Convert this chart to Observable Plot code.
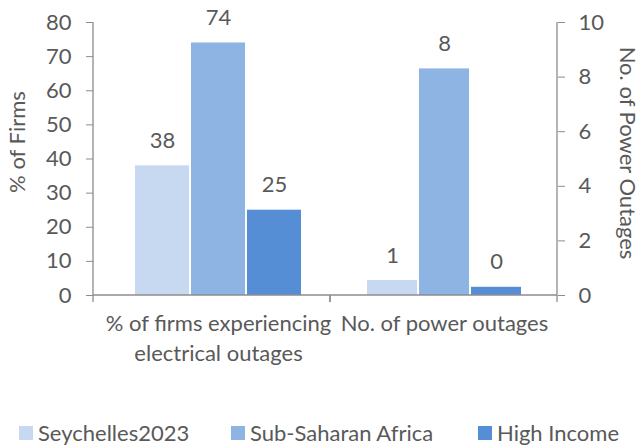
<!DOCTYPE html>
<html>
<head>
<meta charset="utf-8">
<script src="https://cdn.jsdelivr.net/npm/d3@7"></script>
<script src="https://cdn.jsdelivr.net/npm/@observablehq/plot@0.6"></script>
<style>
  html, body { margin: 0; padding: 0; background: #fff; }
  #chart { position: relative; width: 641px; height: 445px; font-family: Lato, sans-serif; color: #595959; }
  #chart svg { position: absolute; top: 0; overflow: visible; }
  .leg { position: absolute; top: 420px; font-size: 22px; line-height: 26px; white-space: nowrap; display: flex; align-items: center; }
  .leg i { display: inline-block; width: 14px; height: 14px; margin-right: 5px; }
</style>
</head>
<body>
<div id="chart"></div>
<script>
// ---- data ----
const series = ["Seychelles2023", "Sub-Saharan Africa", "High Income"];
const colors = ["#C6D9F1", "#8EB4E3", "#558ED5"];
const categories = ["% of firms experiencing\nelectrical outages", "No. of power outages"];
const pctFirmsValues = [38, 74, 25];        // left axis (% of firms)
const outageValues = [0.55, 8.3, 0.3];       // right axis (no. of outages)
const leftTicks = [0, 10, 20, 30, 40, 50, 60, 70, 80];
const rightTicks = [0, 2, 4, 6, 8, 10];
const leftAxisLabel = "% of Firms";
const rightAxisLabel = "No. of Power Outages";

const leftData = series.map((s, i) => ({series: s, value: pctFirmsValues[i]}));
const rightData = series.map((s, i) => ({series: s, value: outageValues[i]}));

const AX = "#8c8c8c", TXT = "#595959", FS = 22;

function frameLines(sides) {
  return (index, scales, values, dims) => {
    const g = d3.create("svg:g").attr("stroke", AX).attr("stroke-width", 1.3);
    const b = dims.height - dims.marginBottom;
    const L = dims.marginLeft, R = dims.width - dims.marginRight;
    g.append("line").attr("x1", L).attr("x2", R).attr("y1", b).attr("y2", b);
    for (const x of [L, R]) g.append("line").attr("x1", x).attr("x2", x).attr("y1", b).attr("y2", b + 7);
    const ax = sides === "left" ? L : R;
    g.append("line").attr("x1", ax).attr("x2", ax).attr("y1", dims.marginTop).attr("y2", b);
    return g.node();
  };
}

const common = {
  height: 410, marginTop: 22, marginBottom: 115,
  style: {fontFamily: "Lato, sans-serif", fontSize: FS + "px", color: TXT, background: "transparent", overflow: "visible"},
  color: {domain: series, range: colors}
};

const left = Plot.plot({
  ...common,
  width: 330, marginLeft: 93, marginRight: 0,
  x: {domain: series, range: [134, 302], paddingInner: 0.04, paddingOuter: 0, axis: null},
  y: {domain: [0, 80], axis: null},
  marks: [
    Plot.axisY({ticks: leftTicks, tickSize: 7, tickPadding: 15, stroke: AX, fill: TXT, label: null, fontSize: FS}),
    Plot.barY(leftData, {x: "series", y: "value", fill: "series"}),
    frameLines("left"),
    Plot.text(leftData, {x: "series", y: "value", text: d => String(Math.round(d.value)), dy: -25, fill: TXT, fontSize: FS}),
    Plot.text([{series: series[1], label: categories[0]}], {x: "series", text: "label", frameAnchor: "bottom", lineAnchor: "top", dy: 14, lineHeight: 1.36, fill: TXT, fontSize: FS}),
    Plot.text([leftAxisLabel], {frameAnchor: "left", textAnchor: "middle", rotate: -90, dx: -76, dy: -17, fill: TXT, fontSize: FS})
  ]
});

const right = Plot.plot({
  ...common,
  width: 311, marginLeft: 0, marginRight: 84,
  x: {domain: series, range: [37, 191], paddingInner: 0.04, paddingOuter: 0, axis: null},
  y: {domain: [0, 10], axis: null},
  marks: [
    Plot.axisY({anchor: "right", ticks: rightTicks, tickSize: 7, tickPadding: 14, stroke: AX, fill: TXT, label: null, fontSize: FS}),
    Plot.barY(rightData, {x: "series", y: "value", fill: "series"}),
    frameLines("right"),
    Plot.text(rightData, {x: "series", y: "value", text: d => String(Math.round(d.value)), dy: -25, fill: TXT, fontSize: FS}),
    Plot.text([{series: series[1], label: categories[1]}], {x: "series", text: "label", frameAnchor: "bottom", lineAnchor: "top", dy: 14, lineHeight: 1.36, fill: TXT, fontSize: FS}),
    Plot.text([rightAxisLabel], {frameAnchor: "right", textAnchor: "middle", rotate: 90, dx: 70, dy: -6, fill: TXT, fontSize: FS})
  ]
});

const chart = document.getElementById("chart");
left.style.left = "0px";
right.style.left = "330px";
chart.appendChild(left);
chart.appendChild(right);

const legX = [19, 231, 478];
series.forEach((s, i) => {
  const d = document.createElement("div");
  d.className = "leg";
  d.style.left = legX[i] + "px";
  d.innerHTML = `<i style="background:${colors[i]}"></i><span>${s}</span>`;
  chart.appendChild(d);
});
</script>
</body>
</html>
